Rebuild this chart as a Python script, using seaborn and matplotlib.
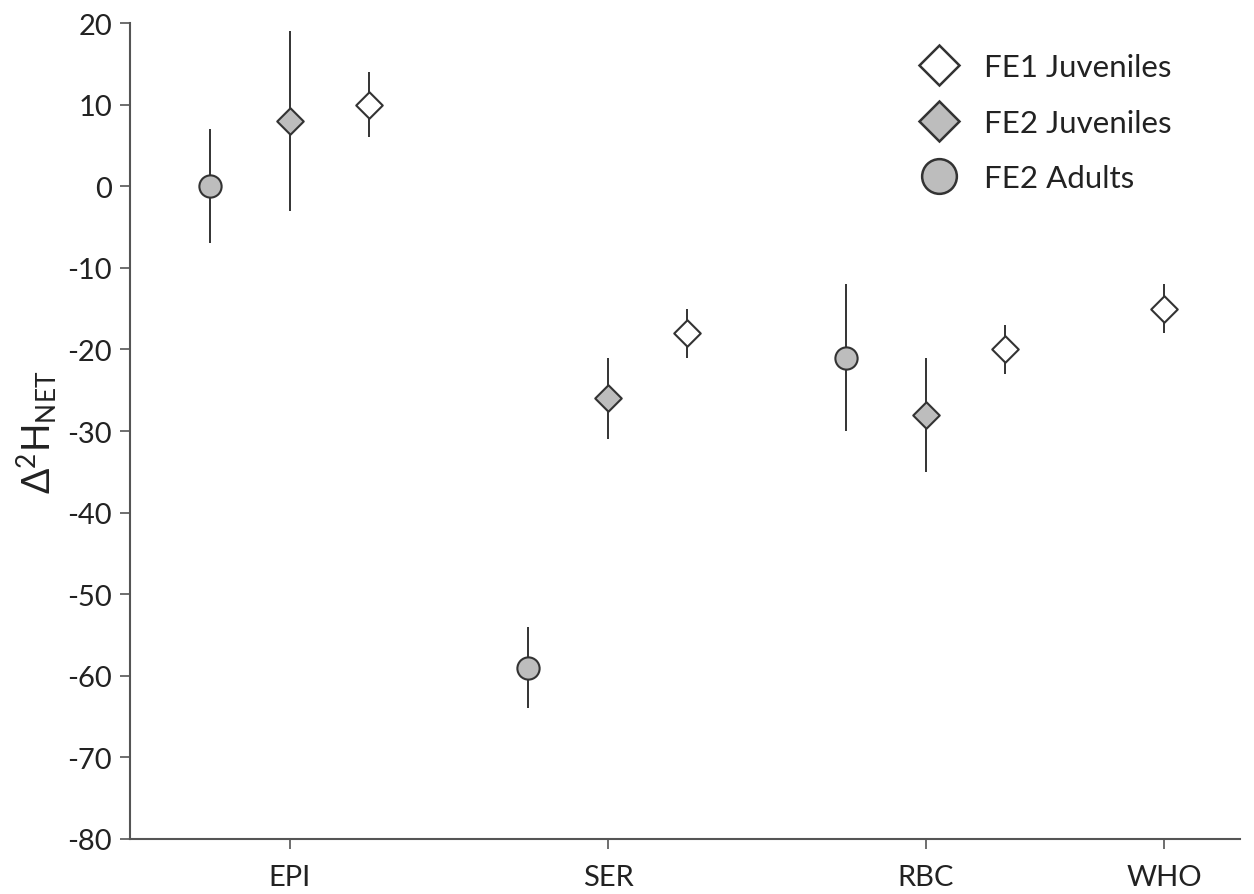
import numpy as np
import pandas as pd
import matplotlib
matplotlib.use("Agg")
import matplotlib.pyplot as plt
from matplotlib.lines import Line2D
import seaborn as sns

# Tissues on the x axis
categories = ["EPI", "SER", "RBC", "WHO"]

# Group means and error half-widths per tissue (NaN = not sampled)
fe1_juv_mean = [10, -18, -20, -15]
fe1_juv_err = [4, 3, 3, 3]
fe2_juv_mean = [8, -26, -28, np.nan]
fe2_juv_err = [11, 5, 7, np.nan]
fe2_adult_mean = [0, -59, -21, np.nan]
fe2_adult_err = [7, 5, 9, np.nan]

group_names = ["FE2 Adults", "FE2 Juveniles", "FE1 Juveniles"]

# y-axis ticks
y_ticks = [20, 10, 0, -10, -20, -30, -40, -50, -60, -70, -80]

# Build the long table
rows = []
series = {
    "FE2 Adults": (fe2_adult_mean, fe2_adult_err),
    "FE2 Juveniles": (fe2_juv_mean, fe2_juv_err),
    "FE1 Juveniles": (fe1_juv_mean, fe1_juv_err),
}
for g, (means, errs) in series.items():
    for c, m, e in zip(categories, means, errs):
        if not np.isnan(m):
            rows.append({"tissue": c, "group": g, "value": m, "err": e})
df = pd.DataFrame(rows)

# Layout: tick centres and within-tissue dodge
tick_pos = {"EPI": 0.0, "SER": 1.0, "RBC": 2.0, "WHO": 2.75}
dodge = 0.25
xs = []
for _, r in df.iterrows():
    present = [g for g in group_names if ((df.tissue == r.tissue) & (df.group == g)).any()]
    n = len(present)
    k = present.index(r.group)
    xs.append(tick_pos[r.tissue] + (k - (n - 1) / 2) * dodge)
df["x"] = xs

sns.set_theme(style="ticks")
plt.rcParams["font.family"] = ["Lato", "DejaVu Sans"]
plt.rcParams["mathtext.fontset"] = "custom"
plt.rcParams["mathtext.rm"] = "Lato"
plt.rcParams["mathtext.it"] = "Lato"
plt.rcParams["mathtext.default"] = "regular"

fig = plt.figure(figsize=(12.54, 8.95), dpi=100)
ax = fig.add_axes([0.1037, 0.0615, 0.885, 0.9115])

edge = "#333333"
grey = "#bdbdbd"

ax.errorbar(df["x"], df["value"], yerr=df["err"], fmt="none",
            ecolor=edge, elinewidth=1.4, capsize=0, zorder=2)

markers = {"FE2 Adults": "o", "FE2 Juveniles": "D", "FE1 Juveniles": "D"}
palette = {"FE2 Adults": grey, "FE2 Juveniles": grey, "FE1 Juveniles": "white"}
sizes = {"FE2 Adults": 16, "FE2 Juveniles": 13.5, "FE1 Juveniles": 13.5}

for g in group_names:
    sub = df[df.group == g]
    sns.scatterplot(data=sub, x="x", y="value", ax=ax, marker=markers[g],
                    color=palette[g], edgecolor=edge, linewidth=1.5,
                    s=sizes[g] ** 2, zorder=3, legend=False)

ax.set_xlim(-0.503, 2.987)
ax.set_ylim(-80, 20)
ax.set_xticks([tick_pos[c] for c in categories])
ax.set_xticklabels(categories)
ax.set_yticks(y_ticks)
ax.set_yticklabels([str(t) for t in y_ticks])
ax.set_xlabel("")
ax.set_ylabel(r"$\Delta^2$H$_{NET}$", fontsize=27, color="#222222", labelpad=6)

sns.despine(ax=ax)
for s in ["left", "bottom"]:
    ax.spines[s].set_color("#555555")
    ax.spines[s].set_linewidth(1.5)
ax.tick_params(axis="both", colors="#555555", width=1.2, length=7,
               labelsize=21, labelcolor="#222222", direction="out")
ax.tick_params(axis="x", pad=11)
ax.tick_params(axis="y", pad=6)

handles = [
    Line2D([], [], linestyle="none", marker="D", markersize=20,
           markerfacecolor="white", markeredgecolor=edge, markeredgewidth=1.8),
    Line2D([], [], linestyle="none", marker="D", markersize=20,
           markerfacecolor=grey, markeredgecolor=edge, markeredgewidth=1.8),
    Line2D([], [], linestyle="none", marker="o", markersize=25,
           markerfacecolor=grey, markeredgecolor=edge, markeredgewidth=1.8),
]
labels = ["FE1 Juveniles", "FE2 Juveniles", "FE2 Adults"]
leg = ax.legend(handles, labels, loc="upper left",
                bbox_to_anchor=(880 / 1254, 1 - 26 / 895),
                bbox_transform=fig.transFigure,
                frameon=False, fontsize=22.5, labelspacing=0.88,
                handletextpad=0.42, labelcolor="#222222")

fig.savefig("out.png", dpi=100, facecolor="white")
